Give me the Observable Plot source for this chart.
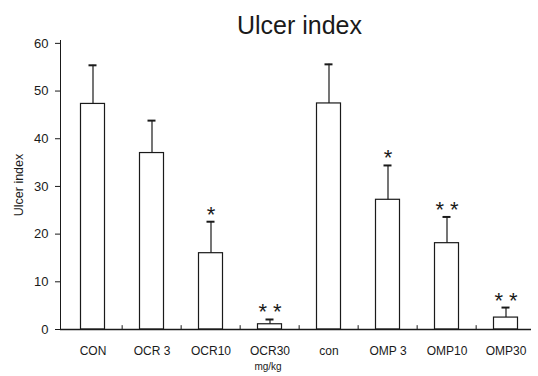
<!DOCTYPE html>
<html>
<head>
<meta charset="utf-8">
<script src="https://cdn.jsdelivr.net/npm/d3@7"></script>
<script src="https://cdn.jsdelivr.net/npm/@observablehq/plot@0.6"></script>
<style>
  html, body { margin: 0; padding: 0; background: #fff; }
  #chart svg { font-family: "Liberation Sans", Arial, sans-serif; }
</style>
</head>
<body>
<div id="chart"></div>
<script>
const categories = ["CON", "OCR 3", "OCR10", "OCR30", "con", "OMP 3", "OMP10", "OMP30"];
const means      = [47.3, 37.0, 16.0, 1.1, 47.4, 27.2, 18.1, 2.5];
const upperError = [55.4, 43.8, 22.6, 2.1, 55.6, 34.4, 23.6, 4.6];
const significance = ["", "", "*", "**", "", "*", "**", "**"];
const yTicks = [0, 10, 20, 30, 40, 50, 60];
const titleText = "Ulcer index";
const yLabel = "Ulcer index";
const unitLabel = "mg/kg";

const data = categories.map((c, i) => ({
  cat: c, mean: means[i], err: upperError[i], sig: significance[i]
}));

const ink = "#1a1a1a";

const chart = Plot.plot({
  width: 538,
  height: 376,
  marginLeft: 60,
  marginRight: 0,
  marginTop: 40,
  marginBottom: 47,
  style: { background: "#fff", color: ink, fontFamily: "Liberation Sans, Arial, sans-serif" },
  x: { domain: categories, padding: 0, label: null },
  y: { domain: [0, 60.6], label: null },
  marks: [
    Plot.axisY({ ticks: yTicks, tickSize: 5, tickPadding: 7, fontSize: 13, label: null, stroke: ink }),
    Plot.text([yLabel], { frameAnchor: "left", textAnchor: "middle", dx: -42, rotate: -90, fontSize: 12.5, fill: ink, text: d => d }),
    Plot.axisX({ tickSize: 0, tickPadding: 17, fontSize: 12, label: null }),
    Plot.frame({ anchor: "left", stroke: ink, strokeWidth: 1 }),
    Plot.ruleX(categories.slice(1), { x: d => d, y1: 0, y2: 0.8, dx: -29.85, stroke: ink }),
    Plot.barY(data, { x: "cat", y: "mean", fill: "white", stroke: ink, strokeWidth: 1.2, insetLeft: 17.5, insetRight: 17.5 }),
    Plot.ruleX(data, { x: "cat", y1: "mean", y2: "err", stroke: ink, strokeWidth: 1.2 }),
    Plot.tickY(data, { x: "cat", y: "err", stroke: ink, strokeWidth: 2, insetLeft: 25.5, insetRight: 25.5 }),
    Plot.ruleY([0], { stroke: ink, strokeWidth: 1.3, insetRight: 7 }),
    Plot.text(data.filter(d => d.sig), {
      x: "cat", y: "err", text: d => d.sig.split("").join(" "),
      lineAnchor: "bottom", dy: 0, fontSize: 22, fill: ink
    }),
    Plot.text([titleText], { frameAnchor: "top", dy: -7, lineAnchor: "bottom", fontSize: 25, fill: ink, text: d => d }),
    Plot.text([unitLabel], { x: () => "OCR30", frameAnchor: "bottom", dy: 40, dx: -2, fontSize: 10, fill: ink, text: d => d })
  ]
});

document.getElementById("chart").appendChild(chart);
</script>
</body>
</html>
